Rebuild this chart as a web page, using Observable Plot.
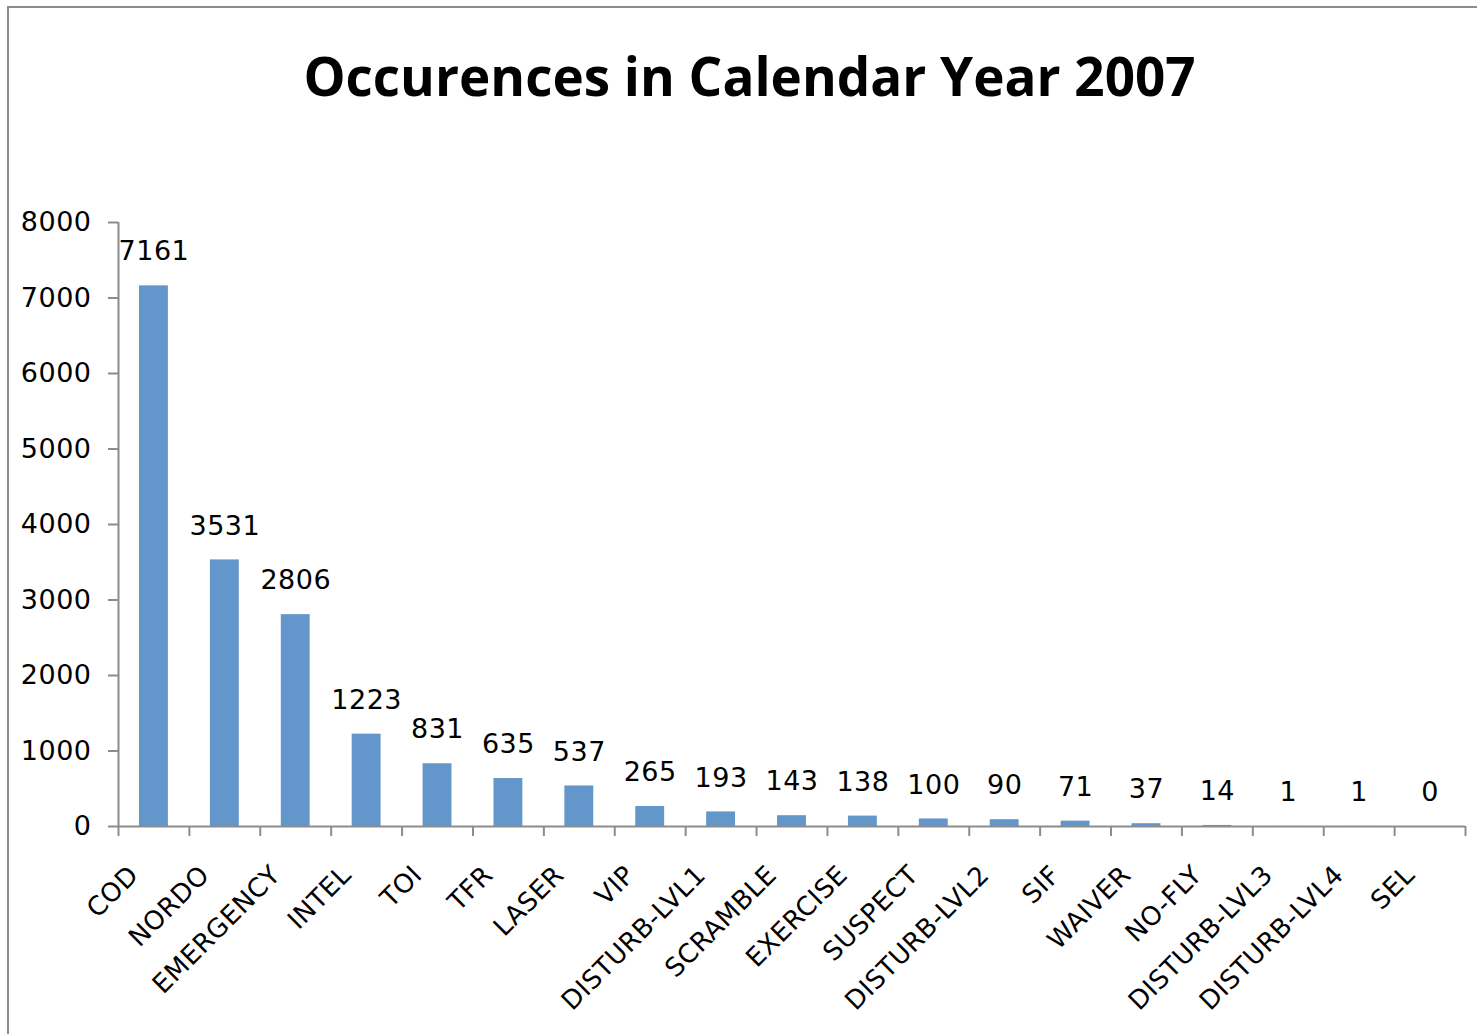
<!DOCTYPE html>
<html>
<head>
<meta charset="utf-8">
<script src="https://cdn.jsdelivr.net/npm/d3@7"></script>
<script src="https://cdn.jsdelivr.net/npm/@observablehq/plot@0.6"></script>
<style>
  html, body { margin: 0; padding: 0; background: #fff; }
  #wrap { position: relative; width: 1477px; height: 1034px; overflow: hidden; }
  #frame { position: absolute; left: 7px; top: 6px; right: -10px; bottom: -10px;
           border-left: 2px solid #8c8c8c; border-top: 2px solid #8c8c8c; }
  #title { position: absolute; left: 0; top: 0; width: 1477px; height: 150px;
           text-align: center; font-family: "Open Sans", sans-serif; font-weight: 700;
           font-size: 53px; line-height: 1; padding-top: 49px; padding-left: 22px; box-sizing: border-box; color: #000; }
  #chart { position: absolute; left: 0; top: 150px; }
  #chart svg text { letter-spacing: 0.5px; }
</style>
</head>
<body>
<div id="wrap">
  <div id="frame"></div>
  <div id="title">Occurences in Calendar Year 2007</div>
  <div id="chart"></div>
</div>
<script>
const categories = ["COD","NORDO","EMERGENCY","INTEL","TOI","TFR","LASER","VIP","DISTURB-LVL1","SCRAMBLE","EXERCISE","SUSPECT","DISTURB-LVL2","SIF","WAIVER","NO-FLY","DISTURB-LVL3","DISTURB-LVL4","SEL"];
const counts = [7161,3531,2806,1223,831,635,537,265,193,143,138,100,90,71,37,14,1,1,0];
const yTicks = [0,1000,2000,3000,4000,5000,6000,7000,8000];

const data = categories.map((c, i) => ({category: c, count: counts[i]}));

const W = 1477, H = 884;
const mL = 118, mR = 12, mT = 72, mB = 208;
const step = (W - mL - mR) / categories.length;
const half = step / 2;
const font = "DejaVu Sans, Verdana, sans-serif";
const axisColor = "#8c8c8c";

const chart = Plot.plot({
  width: W, height: H,
  marginLeft: mL, marginRight: mR, marginTop: mT, marginBottom: mB,
  style: { fontFamily: font, fontSize: "27px", color: "#000", background: "transparent" },
  x: { type: "band", domain: categories, padding: 0, round: false, axis: null, label: null },
  y: { domain: [0, 8000], axis: null, label: null },
  marks: [
    Plot.barY(data, { x: "category", y: "count", fill: "#6396ca", insetLeft: 21, insetRight: 21 }),
    // y axis line
    Plot.ruleX([categories[0]], { x: d => d, dx: -half, y1: 0, y2: 8000, stroke: axisColor, strokeWidth: 2 }),
    // y ticks and labels
    Plot.axisY({ ticks: yTicks, tickSize: 10, tickPadding: 17, stroke: axisColor, strokeWidth: 2,
                 tickFormat: d => String(d), fill: "#000", fontSize: 27, anchor: "left", label: null }),
    // x axis line
    Plot.ruleY([0], { stroke: axisColor, strokeWidth: 2 }),
    // x ticks at band boundaries
    Plot.axisX({ ticks: categories, tickSize: 10, tickFormat: () => "", dx: -half, stroke: axisColor, strokeWidth: 2, label: null }),
    Plot.axisX({ ticks: [categories[categories.length - 1]], tickSize: 10, tickFormat: () => "", dx: half, stroke: axisColor, strokeWidth: 2, label: null }),
    // category labels
    Plot.text(categories, { x: d => d, frameAnchor: "bottom", rotate: -45, textAnchor: "end",
                            dx: -14, dy: 50, fontSize: 26, fill: "#000" }),
    // value labels
    Plot.text(data, { x: "category", y: "count", text: d => String(d.count), dy: -34,
                      fontSize: 27, fill: "#000" })
  ]
});
document.getElementById("chart").appendChild(chart);
const textGroups = chart.querySelectorAll("g[aria-label='text']");
if (textGroups[0]) textGroups[0].style.letterSpacing = "1.5px";
</script>
</body>
</html>
